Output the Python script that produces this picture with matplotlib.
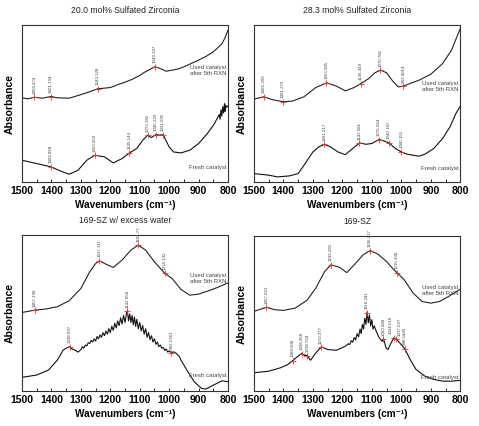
import numpy as np
import matplotlib.pyplot as plt
from matplotlib.ticker import MultipleLocator

plt.rcParams['font.family'] = ['Liberation Sans', 'DejaVu Sans']

# ---- Panel 1: 20.0 mol% Sulfated Zirconia ----
p1_used_x = [1500, 1480, 1458, 1430, 1415, 1400, 1385, 1370, 1340, 1320, 1300, 1270, 1243, 1220, 1200, 1175,
             1150, 1125, 1100, 1085, 1070, 1049, 1030, 1010, 990, 970, 950, 925, 900, 875, 850, 835, 820, 810, 800]
p1_used_y = [53.6, 53.0, 54.0, 53.4, 54.0, 54.5, 53.8, 53.6, 53.4, 54.5, 55.7, 57.5, 59.4, 59.8, 60.2, 62.0,
             63.6, 65.5, 67.9, 69.8, 71.3, 73.4, 72.3, 70.6, 71.3, 72.0, 73.4, 75.5, 77.7, 80.0, 83.0, 85.5, 88.3, 92.0, 96.8]
p1_used_peaks = [1458.474, 1401.794, 1243.128, 1049.327]
p1_used_labels = ['1458.474', '1401.794', '1243.128', '1049.327']

p1_fresh_x = [1500, 1450, 1402, 1370, 1340, 1310, 1280, 1253, 1220, 1190, 1160, 1135, 1110, 1090, 1073, 1060,
              1045, 1030, 1021, 1000, 985, 960, 930, 900, 870, 860, 850, 845, 840, 835, 830, 827, 824, 821,
              818, 815, 812, 810, 808, 805, 800]
p1_fresh_y = [13.8, 11.7, 9.6, 7.0, 4.9, 7.4, 13.8, 17.0, 16.0, 12.1, 14.9, 18.5, 21.3, 26.6, 29.8, 28.3,
              30.2, 29.8, 30.2, 22.3, 19.1, 18.5, 20.2, 24.5, 30.9, 33.5, 36.0, 37.5, 39.4, 41.0, 43.0, 40.0, 46.0, 42.0,
              48.0, 44.0, 50.0, 45.0, 49.0, 47.5, 48.5]
p1_fresh_peaks = [1402.868, 1253.503, 1135.144, 1073.182, 1045.229, 1021.605]
p1_fresh_labels = ['1402.868', '1253.503', '1135.144', '1073.182', '1045.229', '1021.605']

# ---- Panel 2: 28.3 mol% Sulfated Zirconia ----
p2_used_x = [1500, 1466, 1440, 1401, 1370, 1330, 1290, 1253, 1220, 1190, 1160, 1136, 1110, 1090, 1070, 1050,
             1030, 1010, 993, 970, 940, 900, 860, 830, 800]
p2_used_y = [52.8, 54.3, 52.6, 51.1, 51.5, 54.3, 60.2, 63.2, 61.1, 58.1, 60.2, 62.8, 66.0, 69.6, 71.3, 69.6,
             64.5, 60.6, 61.1, 62.8, 64.9, 68.7, 75.5, 84.0, 97.9]
p2_used_peaks = [1466.399, 1401.272, 1253.985, 1136.349, 1070.781, 993.4014]
p2_used_labels = ['1466.399', '1401.272', '1253.985', '1136.349', '1070.781', '993.4014']

p2_fresh_x = [1500, 1450, 1420, 1380, 1350, 1330, 1300, 1280, 1261, 1240, 1215, 1190, 1165, 1142, 1120, 1100,
              1076, 1060, 1042, 1020, 1000, 980, 960, 940, 920, 890, 860, 835, 815, 800]
p2_fresh_y = [5.3, 4.3, 3.2, 3.8, 5.3, 10.6, 19.1, 22.3, 24.0, 22.3, 19.1, 17.4, 21.3, 24.9, 24.0, 24.5,
              27.0, 26.2, 24.9, 21.3, 19.1, 17.7, 17.0, 16.4, 17.7, 21.3, 27.7, 35.1, 43.6, 48.3]
p2_fresh_peaks = [1261.217, 1142.581, 1076.064, 1042.187, 1000.151]
p2_fresh_labels = ['1261.217', '1142.581', '1076.064', '1042.187', '1000.151']

# ---- Panel 3: 169-SZ w/ excess water ----
p3_used_x = [1500, 1457, 1420, 1380, 1340, 1300, 1270, 1250, 1237, 1215, 1190, 1160, 1130, 1105, 1080, 1050,
             1025, 1014, 990, 960, 930, 900, 860, 830, 800]
p3_used_y = [50.4, 51.9, 52.6, 54.1, 57.9, 65.8, 76.5, 81.8, 83.5, 81.4, 79.3, 84.0, 90.4, 93.6, 90.4, 82.9,
             77.6, 75.4, 72.2, 65.2, 61.5, 62.2, 64.7, 66.9, 69.4]
p3_used_peaks = [1457.198, 1237.111, 1104.77, 1014.132]
p3_used_labels = ['1457.198', '1237.111', '1104.77', '1014.132']

p3_fresh_x = [1500, 1450, 1410, 1380, 1360, 1350, 1339, 1330, 1320, 1310, 1300, 1295, 1290, 1285, 1280, 1275,
              1270, 1265, 1260, 1255, 1250, 1245, 1240, 1235, 1230, 1225, 1220, 1215, 1210, 1205, 1200, 1195,
              1190, 1185, 1180, 1175, 1170, 1165, 1160, 1155, 1150, 1145, 1142, 1138, 1134, 1130, 1126, 1122,
              1118, 1114, 1110, 1105, 1100, 1095, 1090, 1085, 1080, 1075, 1070, 1065, 1060, 1055, 1050, 1045,
              1040, 1035, 1030, 1025, 1020, 1015, 1010, 1005, 1000, 992, 985, 975, 965, 960, 940, 915, 890,
              875, 850, 820, 800]
p3_fresh_y = [8.8, 10.3, 13.5, 19.9, 26.3, 27.5, 28.4, 27.0, 26.3, 25.0, 26.5, 28.5, 27.5, 29.5, 29.0, 31.0,
              30.5, 32.5, 31.5, 33.5, 32.0, 35.0, 33.5, 36.0, 34.5, 37.5, 35.5, 38.5, 36.5, 40.0, 37.5, 41.5,
              39.0, 43.5, 40.5, 45.0, 42.0, 47.0, 43.0, 48.5, 44.0, 50.0, 51.5, 45.0, 49.5, 44.0, 48.5, 42.5,
              47.5, 41.5, 46.0, 40.0, 44.0, 38.5, 42.0, 36.5, 40.0, 34.5, 37.5, 33.0, 35.5, 31.5, 33.5, 30.0,
              31.5, 28.5, 29.5, 27.5, 28.0, 26.0, 27.0, 25.0, 25.8, 24.6, 25.2, 24.1, 22.0, 19.9, 13.5, 6.0, 1.7,
              1.3, 3.8, 6.6, 6.0]
p3_fresh_peaks = [1338.597, 1142.658, 992.1961]
p3_fresh_labels = ['1338.597', '1142.658', '992.1961']

# ---- Panel 4: 169-SZ ----
p4_used_x = [1500, 1457, 1430, 1400, 1360, 1320, 1290, 1260, 1239, 1210, 1185, 1160, 1130, 1106, 1080, 1050,
             1030, 1015, 990, 960, 930, 900, 870, 840, 800]
p4_used_y = [51.4, 54.0, 52.5, 52.0, 53.5, 58.5, 66.4, 77.1, 81.4, 79.9, 76.4, 81.4, 87.8, 90.6, 88.4, 83.5,
             79.2, 76.4, 71.7, 63.2, 57.8, 56.7, 57.8, 61.0, 65.7]
p4_used_peaks = [1457.921, 1239.281, 1106.217, 1015.338]
p4_used_labels = ['1457.921', '1239.281', '1106.217', '1015.338']

p4_fresh_x = [1500, 1450, 1410, 1385, 1368, 1350, 1338, 1328, 1319, 1308, 1290, 1271, 1250, 1220, 1190, 1180,
              1175, 1170, 1165, 1160, 1155, 1150, 1145, 1140, 1136, 1132, 1128, 1124, 1120, 1116, 1112, 1108,
              1104, 1100, 1096, 1092, 1085, 1075, 1065, 1060, 1052, 1045, 1035, 1025, 1018, 1005, 988, 970,
              950, 920, 890, 860, 830, 800]
p4_fresh_y = [11.8, 12.8, 15.0, 17.1, 19.7, 22.5, 24.2, 22.9, 22.9, 19.9, 24.6, 28.5, 26.8, 26.3, 28.9, 30.5,
              30.0, 32.5, 31.5, 34.5, 33.0, 37.0, 35.0, 40.0, 37.0, 43.0, 40.0, 47.0, 43.0, 51.0, 44.0, 49.0,
              42.0, 46.0, 40.0, 42.0, 38.5, 34.3, 32.1, 33.6, 27.8, 26.8, 31.0, 34.3, 33.6, 31.0, 27.2, 20.3,
              13.9, 9.6, 7.5, 6.4, 6.4, 6.9]
p4_fresh_peaks = [1368.008, 1338.358, 1318.764, 1272.377, 1116.241, 1060.888, 1024.518, 1017.627, 988.5445]
p4_fresh_labels = ['1368.008', '1338.358', '1318.764', '1272.377', '1116.241', '1060.888', '1024.518',
                   '1017.627', '988.5445']

titles = ['20.0 mol% Sulfated Zirconia', '28.3 mol% Sulfated Zirconia', '169-SZ w/ excess water', '169-SZ']
used_text_y = [71, 61, 72, 65]
fresh_text_y = [9, 8.5, 10, 9]


def mark_peaks(ax, xs, ys, peaks, labels):
    py = np.interp(peaks, xs[::-1], ys[::-1])
    ax.plot(peaks, py, '+', color='#e03030', markersize=4, mew=0.6, zorder=4)
    for i, (px, yy, lab) in enumerate(zip(peaks, py, labels)):
        dx = 0
        # two labels very close together: push them apart a little
        if i + 1 < len(peaks) and abs(peaks[i + 1] - px) < 10:
            dx = -2.2
        elif i > 0 and abs(peaks[i - 1] - px) < 10:
            dx = 2.2
        ax.annotate(lab, (px, yy), xytext=(dx, 2.5), textcoords='offset points', rotation=90,
                    ha='center', va='bottom', fontsize=3.2, color='#444444')


def draw_panel(ax, title, ux, uy, upk, ulab, fx, fy, fpk, flab, ut, ft):
    ax.plot(ux, uy, color='#222222', lw=0.8)
    ax.plot(fx, fy, color='#111111', lw=0.8)
    mark_peaks(ax, ux, uy, upk, ulab)
    mark_peaks(ax, fx, fy, fpk, flab)
    ax.text(806, ut, 'Used catalyst\nafter 5th RXN', ha='right', va='center', fontsize=4.3,
            color='#444444', linespacing=1.3)
    ax.text(806, ft, 'Fresh catalyst', ha='right', va='center', fontsize=4.3, color='#444444')
    ax.set_xlim(1500, 800)
    ax.set_ylim(0, 100)
    ax.set_yticks([])
    ax.xaxis.set_major_locator(MultipleLocator(100))
    ax.xaxis.set_minor_locator(MultipleLocator(50))
    ax.tick_params(axis='x', which='both', direction='in', length=2.5, width=0.6, labelsize=7.5, pad=3)
    for t in ax.get_xticklabels():
        t.set_fontweight('bold')
    for s in ax.spines.values():
        s.set_linewidth(0.8)
        s.set_color('#333333')
    ax.set_title(title, fontsize=6.2, pad=9, color='#222222')
    ax.set_xlabel('Wavenumbers (cm\u207b\u00b9)', fontsize=7.2, fontweight='bold', labelpad=3)
    ax.set_ylabel('Absorbance', fontsize=7.5, fontweight='bold', labelpad=5)


fig = plt.figure(figsize=(4.79, 4.26), dpi=100)
positions = [[0.046, 0.573, 0.430, 0.368], [0.530, 0.573, 0.431, 0.368],
             [0.046, 0.082, 0.430, 0.366], [0.530, 0.082, 0.431, 0.364]]
data = [
    (p1_used_x, p1_used_y, p1_used_peaks, p1_used_labels, p1_fresh_x, p1_fresh_y, p1_fresh_peaks, p1_fresh_labels),
    (p2_used_x, p2_used_y, p2_used_peaks, p2_used_labels, p2_fresh_x, p2_fresh_y, p2_fresh_peaks, p2_fresh_labels),
    (p3_used_x, p3_used_y, p3_used_peaks, p3_used_labels, p3_fresh_x, p3_fresh_y, p3_fresh_peaks, p3_fresh_labels),
    (p4_used_x, p4_used_y, p4_used_peaks, p4_used_labels, p4_fresh_x, p4_fresh_y, p4_fresh_peaks, p4_fresh_labels),
]
for i in range(4):
    ax = fig.add_axes(positions[i])
    draw_panel(ax, titles[i], *data[i], used_text_y[i], fresh_text_y[i])

fig.savefig('out.png', dpi=100)
